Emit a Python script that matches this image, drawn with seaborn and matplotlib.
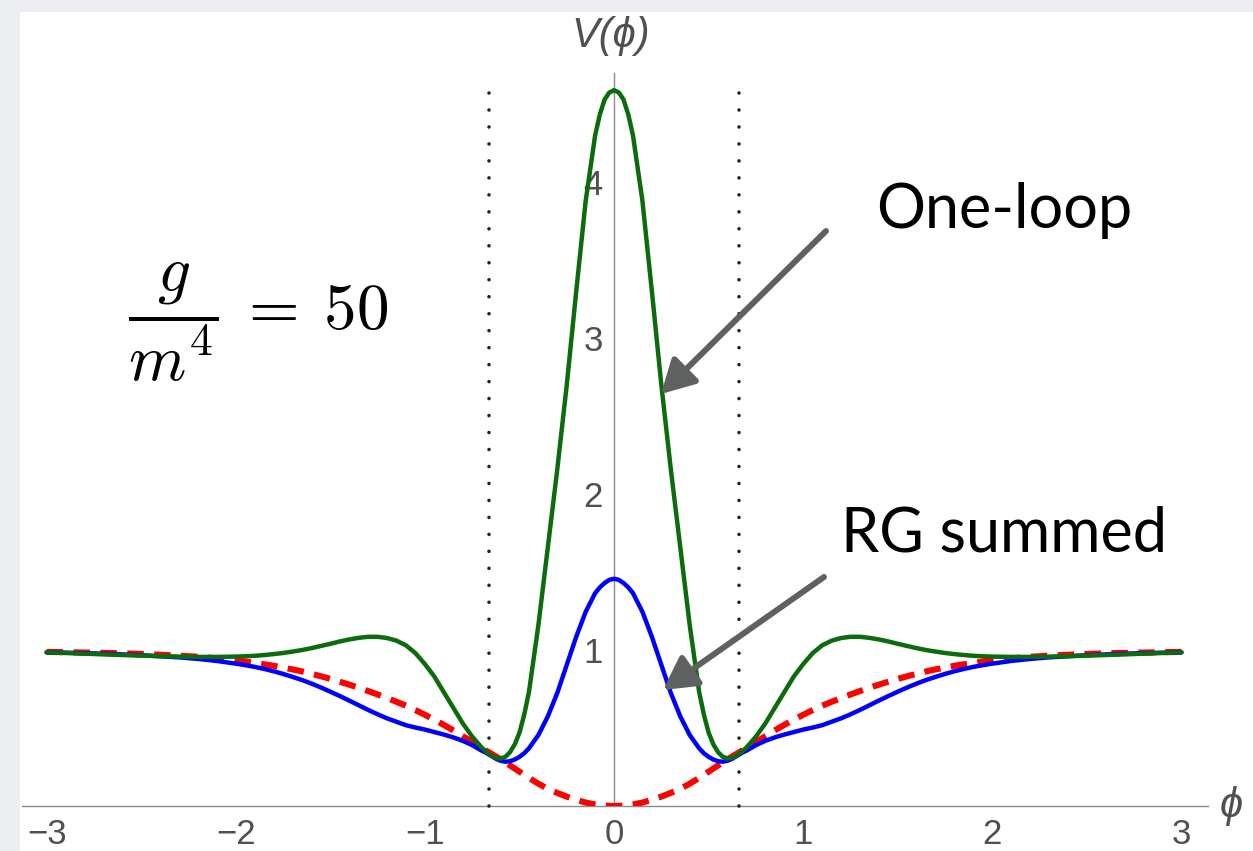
import matplotlib
matplotlib.use("Agg")
import matplotlib.pyplot as plt
from matplotlib.patches import Rectangle
from matplotlib.ticker import MultipleLocator
import seaborn as sns
import pandas as pd

# ---------------- data (curves are symmetric in phi) ----------------
phi_pos = [0.025, 0.05, 0.075, 0.10, 0.15, 0.20, 0.25, 0.30, 0.35, 0.40,
           0.45, 0.475, 0.50, 0.525, 0.55, 0.575, 0.60, 0.625, 0.65, 0.675,
           0.70, 0.75, 0.80, 0.85, 0.90, 0.95, 1.00,
           1.05, 1.10, 1.15, 1.20, 1.25, 1.30, 1.35, 1.40, 1.45, 1.50,
           1.55, 1.60, 1.65, 1.70, 1.75, 1.80, 1.85, 1.90, 1.95, 2.00,
           2.1, 2.2, 2.3, 2.4, 2.5, 2.6, 2.7, 2.8, 2.9, 3.0]

one_loop_0 = 4.59
one_loop_pos = [4.575, 4.53, 4.435, 4.30, 3.88, 3.30, 2.70, 2.16, 1.66, 1.16,
                0.73, 0.585, 0.47, 0.395, 0.345, 0.315, 0.305, 0.308, 0.325, 0.347,
                0.375, 0.445, 0.53, 0.63, 0.73, 0.83, 0.91,
                0.98, 1.03, 1.06, 1.077, 1.085, 1.085, 1.078, 1.068, 1.055, 1.04,
                1.026, 1.012, 1.0, 0.99, 0.981, 0.974, 0.968, 0.963, 0.96, 0.958,
                0.956, 0.956, 0.958, 0.961, 0.964, 0.968, 0.972, 0.977, 0.981, 0.985]

rg_0 = 1.457
rg_pos = [1.45, 1.43, 1.402, 1.365, 1.245, 1.085, 0.905, 0.725, 0.575, 0.455,
          0.37, 0.338, 0.315, 0.298, 0.287, 0.284, 0.29, 0.303, 0.322, 0.34,
          0.355, 0.39, 0.418, 0.44, 0.458, 0.474, 0.49,
          0.503, 0.518, 0.54, 0.562, 0.588, 0.616, 0.646, 0.676, 0.705, 0.733,
          0.76, 0.785, 0.808, 0.828, 0.847, 0.864, 0.879, 0.892, 0.903, 0.913,
          0.93, 0.943, 0.953, 0.96, 0.967, 0.972, 0.977, 0.98, 0.983, 0.985]

tree_0 = 0.0
tree_pos = [0.001, 0.003, 0.006, 0.01, 0.022, 0.04, 0.06, 0.084, 0.11, 0.143,
            0.18, 0.20, 0.22, 0.24, 0.26, 0.28, 0.30, 0.318, 0.336, 0.354,
            0.372, 0.41, 0.448, 0.485, 0.52, 0.553, 0.585,
            0.615, 0.643, 0.668, 0.692, 0.715, 0.737, 0.758, 0.778, 0.797, 0.815,
            0.832, 0.848, 0.863, 0.876, 0.888, 0.899, 0.909, 0.918, 0.927, 0.935,
            0.947, 0.957, 0.964, 0.97, 0.975, 0.979, 0.982, 0.984, 0.986, 0.988]

marker_phi = [-0.66, 0.66]
marker_top = 4.64

x_ticks = [-3, -2, -1, 0, 1, 2, 3]
x_ticklabels = ["\u22123", "\u22122", "\u22121", "0", "1", "2", "3"]
y_ticks = [1, 2, 3, 4]
y_ticklabels = ["1", "2", "3", "4"]


def mirror(values, center):
    return list(reversed(values)) + [center] + list(values)


phi = [-p for p in reversed(phi_pos)] + [0.0] + list(phi_pos)
df = pd.DataFrame({"phi": phi,
                   "one_loop": mirror(one_loop_pos, one_loop_0),
                   "rg": mirror(rg_pos, rg_0),
                   "tree": mirror(tree_pos, tree_0)})

# ---------------- style ----------------
sns.set_style("white")
plt.rcParams["font.family"] = ["Liberation Sans", "DejaVu Sans"]
plt.rcParams["axes.unicode_minus"] = True

W, H = 1253, 851
fig = plt.figure(figsize=(W / 100, H / 100), dpi=100, facecolor="#eceef1")
fig.add_artist(Rectangle((20 / W, 0), 1 - 20 / W, (H - 12) / H,
                         transform=fig.transFigure, facecolor="white",
                         edgecolor="none", zorder=0))

ax = fig.add_axes([22 / W, 45 / H, 1186 / W, 733 / H])
ax.patch.set_alpha(0)

sns.lineplot(data=df, x="phi", y="tree", ax=ax, color="#ff0000", lw=4.4,
             linestyle=(0, (2.7, 1.7)), sort=False, zorder=3)
sns.lineplot(data=df, x="phi", y="rg", ax=ax, color="#0000ff", lw=3.2,
             sort=False, zorder=4)
sns.lineplot(data=df, x="phi", y="one_loop", ax=ax, color="#0c6b0c", lw=3.2,
             sort=False, zorder=5)

for xp in marker_phi:
    ax.plot([xp, xp], [0, marker_top], color="#222222", lw=2.6,
            linestyle=(0, (0.001, 4.7)), dash_capstyle="round",
            clip_on=False, zorder=2)

ax.set_xlim(-3.13, 3.14)
ax.set_ylim(0, 4.70)

for s in ["top", "right"]:
    ax.spines[s].set_visible(False)
ax.spines["left"].set_position(("data", 0))
for s in ["left", "bottom"]:
    ax.spines[s].set_color("#8a8a8a")
    ax.spines[s].set_linewidth(1.0)
    ax.spines[s].set_zorder(1)

ax.set_xticks(x_ticks)
ax.set_xticklabels(x_ticklabels)
ax.set_yticks(y_ticks)
ax.set_yticklabels(y_ticklabels)
ax.xaxis.set_minor_locator(MultipleLocator(0.2))
ax.yaxis.set_minor_locator(MultipleLocator(0.2))

lab_col = "#505050"
ax.tick_params(axis="x", which="major", direction="in", length=8, width=0.9,
               color="#8a8a8a", pad=9, labelsize=25, labelcolor=lab_col)
ax.tick_params(axis="x", which="minor", direction="in", length=4.3, width=0.9,
               color="#8a8a8a")
ax.tick_params(axis="y", which="major", direction="in", length=8.6, width=0.9,
               color="#8a8a8a", pad=8, labelsize=25, labelcolor=lab_col)
ax.tick_params(axis="y", which="minor", direction="in", length=5.5, width=0.9,
               color="#8a8a8a")
ax.set_xlabel("")
ax.set_ylabel("")

# axis labels
fig.text(611 / W, 1 - 36 / H, "V(\u03d5)", fontsize=30, fontstyle="italic",
         color=lab_col, ha="center", va="center")
fig.text(1220 / W, 1 - 806 / H, "\u03d5", fontsize=30, fontstyle="italic",
         color=lab_col, ha="left", va="center")

# formula
fig.text(258 / W, 1 - 322 / H, r"$\dfrac{g}{m^4}\:=\:50$", fontsize=47,
         ha="center", va="center", math_fontfamily="cm", color="black")

# annotations
ann_font = ["Lato", "DejaVu Sans"]
fig.text(876 / W, 1 - 228 / H, "One-loop", fontsize=44, family=ann_font,
         ha="left", va="baseline", color="black")
fig.text(841 / W, 1 - 551 / H, "RG summed", fontsize=44, family=ann_font,
         ha="left", va="baseline", color="black")

arrow_props = dict(arrowstyle="-|>,head_length=1.0,head_width=0.55",
                   lw=4.3, color="#5f6060", shrinkA=0, shrinkB=0,
                   mutation_scale=20)
ax.annotate("", xy=(661, H - 394), xytext=(826, H - 231),
            xycoords="figure pixels", textcoords="figure pixels",
            arrowprops=arrow_props, zorder=6)
ax.annotate("", xy=(663, H - 690), xytext=(824, H - 577),
            xycoords="figure pixels", textcoords="figure pixels",
            arrowprops=arrow_props, zorder=6)

fig.savefig("out.png", dpi=100, facecolor=fig.get_facecolor())
